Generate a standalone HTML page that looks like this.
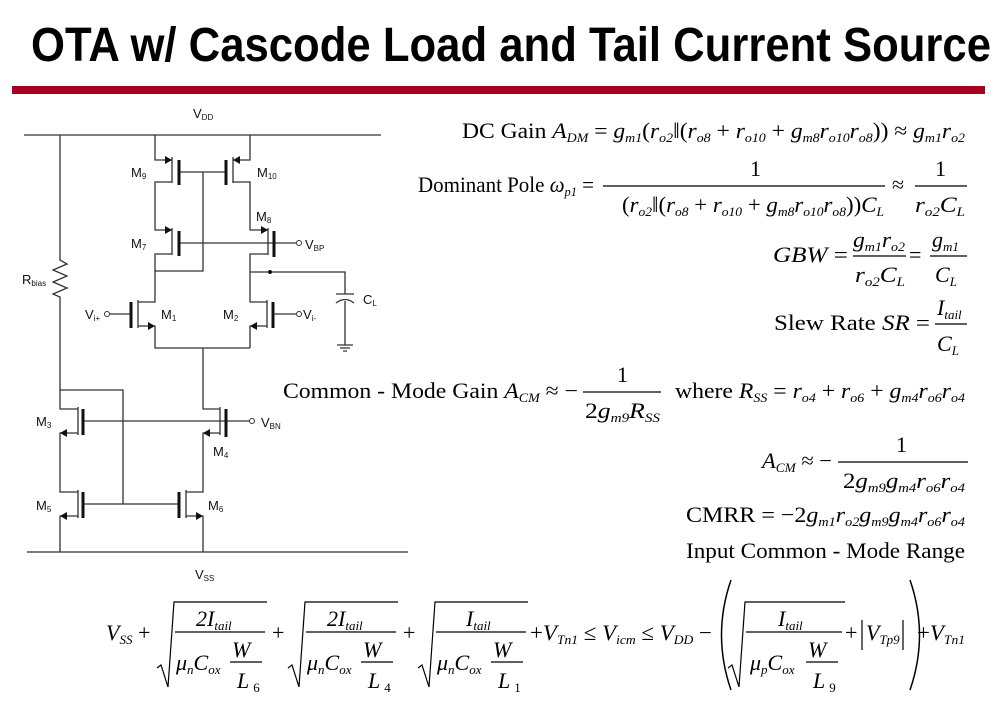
<!DOCTYPE html>
<html><head><meta charset="utf-8"><style>
html,body{margin:0;padding:0;background:#fff;}
svg{display:block;}
.t{font-family:"Liberation Serif",serif;font-size:22px;fill:#000;}
.i{font-style:italic;}
.s{font-size:13px;font-style:italic;}
.c{font-family:"Liberation Sans",sans-serif;font-size:13px;fill:#111;}
.cs{font-size:8px;}
</style></head><body>
<svg width="1004" height="707" viewBox="0 0 1004 707" xmlns="http://www.w3.org/2000/svg">
<text x="31" y="61" font-family="Liberation Sans, sans-serif" font-weight="bold" font-size="48" textLength="960" lengthAdjust="spacingAndGlyphs">OTA w/ Cascode Load and Tail Current Source</text>
<rect x="12" y="86" width="973" height="8" fill="#a50021"/>

<g stroke="#333" stroke-width="1.3" fill="none">
<path d="M24 135H381"/>
<path d="M60 135V260l7 4-14 6 14 6-14 6 14 6-14 6 7 3V409H78"/>
<path d="M60 390H123V504"/>
<path d="M155 135V160H172M172 157V183M172 182H155V230H172M172 228V255M172 254H155V302H138M138 300V328M138 326H155V348H250"/>
<path d="M250 135V160H233M233 157V183M233 182H250V230H268M268 228V255M268 254H250V302H267M267 300V328M267 326H250V348"/>
<path d="M179 172H226M203 172V271H155M179 243H296M250 272H345V294M345 301V345"/>
<path d="M336 294H354M336 303Q345 296 354 303"/>
<path d="M337 345H353M340 348H350M343 351H347"/>
<path d="M131 314H110M273 314H296"/>
<path d="M203 348V409H220M220 407V435M220 433H203V492H186M186 490V518M186 516H203V552"/>
<path d="M78 407V435M78 433H60V492H78M78 490V518M78 516H60V552"/>
<path d="M83 421H249M83 504H179"/>
<path d="M27 552H408"/>
</g>
<g stroke="#111" stroke-width="3">
<path d="M179 160V185M226 160V185M179 231V256M274 231V257M131 302V328M273 302V328M83 409V435M226 409V437M83 492V518M179 492V518"/>
</g>
<g fill="#111">
<polygon points="172,160 165,156 165,164"/><polygon points="233,160 240,156 240,164"/>
<polygon points="172,230 165,226 165,234"/><polygon points="268,230 261,226 261,234"/>
<polygon points="155,326 148,322 148,330"/><polygon points="250,326 257,322 257,330"/>
<polygon points="60,433 67,429 67,437"/><polygon points="203,433 210,429 210,437"/>
<polygon points="60,516 67,512 67,520"/><polygon points="203,516 196,512 196,520"/>
<circle cx="270" cy="272" r="2"/>
</g>
<g fill="#fff" stroke="#333" stroke-width="1">
<circle cx="107" cy="314" r="2.5"/><circle cx="299" cy="314" r="2.5"/><circle cx="299" cy="243" r="2.5"/><circle cx="252" cy="421" r="2.5"/>
</g>
<g class="c">
<text x="193" y="118">V<tspan class="cs" dy="2">DD</tspan></text>
<text x="195" y="579">V<tspan class="cs" dy="2">SS</tspan></text>
<text x="131" y="177">M<tspan class="cs" dy="2">9</tspan></text>
<text x="257" y="177">M<tspan class="cs" dy="2">10</tspan></text>
<text x="256" y="221">M<tspan class="cs" dy="2">8</tspan></text>
<text x="131" y="248">M<tspan class="cs" dy="2">7</tspan></text>
<text x="305" y="249">V<tspan class="cs" dy="2">BP</tspan></text>
<text x="22" y="284">R<tspan class="cs" dy="2">bias</tspan></text>
<text x="85" y="319">V<tspan class="cs" dy="2">i+</tspan></text>
<text x="161" y="319">M<tspan class="cs" dy="2">1</tspan></text>
<text x="223" y="319">M<tspan class="cs" dy="2">2</tspan></text>
<text x="303" y="319">V<tspan class="cs" dy="2">i-</tspan></text>
<text x="363" y="304">C<tspan class="cs" dy="2">L</tspan></text>
<text x="36" y="426">M<tspan class="cs" dy="2">3</tspan></text>
<text x="261" y="427">V<tspan class="cs" dy="2">BN</tspan></text>
<text x="213" y="456">M<tspan class="cs" dy="2">4</tspan></text>
<text x="36" y="510">M<tspan class="cs" dy="2">5</tspan></text>
<text x="208" y="510">M<tspan class="cs" dy="2">6</tspan></text>
</g>

<g class="t">
<text x="462" y="138" textLength="503" lengthAdjust="spacingAndGlyphs">DC Gain  <tspan class="i">A</tspan><tspan class="s" dy="4">DM</tspan><tspan dy="-4"> = </tspan><tspan class="i">g</tspan><tspan class="s" dy="4">m1</tspan><tspan dy="-4">(</tspan><tspan class="i">r</tspan><tspan class="s" dy="4">o2</tspan><tspan dy="-4">‖(</tspan><tspan class="i">r</tspan><tspan class="s" dy="4">o8</tspan><tspan dy="-4"> + </tspan><tspan class="i">r</tspan><tspan class="s" dy="4">o10</tspan><tspan dy="-4"> + </tspan><tspan class="i">g</tspan><tspan class="s" dy="4">m8</tspan><tspan class="i" dy="-4">r</tspan><tspan class="s" dy="4">o10</tspan><tspan class="i" dy="-4">r</tspan><tspan class="s" dy="4">o8</tspan><tspan dy="-4">)) ≈ </tspan><tspan class="i">g</tspan><tspan class="s" dy="4">m1</tspan><tspan class="i" dy="-4">r</tspan><tspan class="s" dy="4">o2</tspan></text>

<text x="418" y="192" textLength="176" lengthAdjust="spacingAndGlyphs">Dominant Pole  <tspan class="i">ω</tspan><tspan class="s" dy="4">p1</tspan><tspan dy="-4"> =</tspan></text>
<line x1="603" y1="186" x2="885" y2="186" stroke="#000" stroke-width="1.2"/>
<text x="750" y="176">1</text>
<text x="622" y="212" textLength="262" lengthAdjust="spacingAndGlyphs">(<tspan class="i">r</tspan><tspan class="s" dy="4">o2</tspan><tspan dy="-4">‖(</tspan><tspan class="i">r</tspan><tspan class="s" dy="4">o8</tspan><tspan dy="-4"> + </tspan><tspan class="i">r</tspan><tspan class="s" dy="4">o10</tspan><tspan dy="-4"> + </tspan><tspan class="i">g</tspan><tspan class="s" dy="4">m8</tspan><tspan class="i" dy="-4">r</tspan><tspan class="s" dy="4">o10</tspan><tspan class="i" dy="-4">r</tspan><tspan class="s" dy="4">o8</tspan><tspan dy="-4">))</tspan><tspan class="i">C</tspan><tspan class="s" dy="4">L</tspan></text>
<text x="892" y="192">≈</text>
<line x1="915" y1="186" x2="967" y2="186" stroke="#000" stroke-width="1.2"/>
<text x="935" y="176">1</text>
<text x="915" y="212" class="i" textLength="50" lengthAdjust="spacingAndGlyphs">r<tspan class="s" dy="4">o2</tspan><tspan dy="-4">C</tspan><tspan class="s" dy="4">L</tspan></text>

<text x="773" y="262" class="i" textLength="75" lengthAdjust="spacingAndGlyphs">GBW <tspan font-style="normal">=</tspan></text>
<line x1="853" y1="256" x2="906" y2="256" stroke="#000" stroke-width="1.2"/>
<text x="853" y="247" class="i" textLength="52" lengthAdjust="spacingAndGlyphs">g<tspan class="s" dy="4">m1</tspan><tspan dy="-4">r</tspan><tspan class="s" dy="4">o2</tspan></text>
<text x="855" y="282" class="i" textLength="50" lengthAdjust="spacingAndGlyphs">r<tspan class="s" dy="4">o2</tspan><tspan dy="-4">C</tspan><tspan class="s" dy="4">L</tspan></text>
<text x="909" y="262">=</text>
<line x1="930" y1="256" x2="967" y2="256" stroke="#000" stroke-width="1.2"/>
<text x="932" y="247" class="i">g<tspan class="s" dy="4">m1</tspan></text>
<text x="935" y="282" class="i">C<tspan class="s" dy="4">L</tspan></text>

<text x="774" y="330" textLength="156" lengthAdjust="spacingAndGlyphs">Slew Rate  <tspan class="i">SR</tspan> =</text>
<line x1="935" y1="324" x2="967" y2="324" stroke="#000" stroke-width="1.2"/>
<text x="937" y="315" class="i">I<tspan class="s" dy="4">tail</tspan></text>
<text x="937" y="351" class="i">C<tspan class="s" dy="4">L</tspan></text>

<text x="283" y="398" textLength="295" lengthAdjust="spacingAndGlyphs">Common - Mode Gain  <tspan class="i">A</tspan><tspan class="s" dy="4">CM</tspan><tspan dy="-4"> ≈ −</tspan></text>
<line x1="583" y1="392" x2="661" y2="392" stroke="#000" stroke-width="1.2"/>
<text x="617" y="382">1</text>
<text x="585" y="418" textLength="75" lengthAdjust="spacingAndGlyphs">2<tspan class="i">g</tspan><tspan class="s" dy="4">m9</tspan><tspan class="i" dy="-4">R</tspan><tspan class="s" dy="4">SS</tspan></text>
<text x="675" y="398" textLength="290" lengthAdjust="spacingAndGlyphs">where  <tspan class="i">R</tspan><tspan class="s" dy="4">SS</tspan><tspan dy="-4"> = </tspan><tspan class="i">r</tspan><tspan class="s" dy="4">o4</tspan><tspan dy="-4"> + </tspan><tspan class="i">r</tspan><tspan class="s" dy="4">o6</tspan><tspan dy="-4"> + </tspan><tspan class="i">g</tspan><tspan class="s" dy="4">m4</tspan><tspan class="i" dy="-4">r</tspan><tspan class="s" dy="4">o6</tspan><tspan class="i" dy="-4">r</tspan><tspan class="s" dy="4">o4</tspan></text>

<text x="762" y="468" textLength="70" lengthAdjust="spacingAndGlyphs"><tspan class="i">A</tspan><tspan class="s" dy="4">CM</tspan><tspan dy="-4"> ≈ −</tspan></text>
<line x1="838" y1="462" x2="968" y2="462" stroke="#000" stroke-width="1.2"/>
<text x="896" y="452">1</text>
<text x="843" y="488" textLength="122" lengthAdjust="spacingAndGlyphs">2<tspan class="i">g</tspan><tspan class="s" dy="4">m9</tspan><tspan class="i" dy="-4">g</tspan><tspan class="s" dy="4">m4</tspan><tspan class="i" dy="-4">r</tspan><tspan class="s" dy="4">o6</tspan><tspan class="i" dy="-4">r</tspan><tspan class="s" dy="4">o4</tspan></text>

<text x="686" y="522" textLength="279" lengthAdjust="spacingAndGlyphs">CMRR = −2<tspan class="i">g</tspan><tspan class="s" dy="4">m1</tspan><tspan class="i" dy="-4">r</tspan><tspan class="s" dy="4">o2</tspan><tspan class="i" dy="-4">g</tspan><tspan class="s" dy="4">m9</tspan><tspan class="i" dy="-4">g</tspan><tspan class="s" dy="4">m4</tspan><tspan class="i" dy="-4">r</tspan><tspan class="s" dy="4">o6</tspan><tspan class="i" dy="-4">r</tspan><tspan class="s" dy="4">o4</tspan></text>
<text x="686" y="558" textLength="279" lengthAdjust="spacingAndGlyphs">Input Common - Mode Range</text>

<text x="106" y="640"><tspan class="i">V</tspan><tspan class="s" dy="4">SS</tspan><tspan dy="-4"> +</tspan></text>
<text x="272" y="640">+</text>
<text x="403" y="640">+</text>
</g>

<g stroke="#000" stroke-width="1.2" fill="none">
<path d="M157 668l4-3 7 22 6-85h93"/>
<path d="M288 668l4-3 7 22 6-85h93"/>
<path d="M418 668l4-3 7 22 6-85h93"/>
<path d="M728 668l4-3 7 22 6-85h100"/>
<path d="M175 632H265M306 632H396M436 632H526M746 632H842"/>
<path d="M230 662H262M361 662H393M491 662H523M806 662H838"/>
<path d="M731 580Q712 635 731 690" stroke-width="1.5"/>
<path d="M910 580Q929 635 910 690" stroke-width="1.5"/>
<path d="M862 620V650M903 620V650"/>
</g>
<g class="t">
<text x="196" y="626" class="i">2I<tspan class="s" dy="4">tail</tspan></text>
<text x="327" y="626" class="i">2I<tspan class="s" dy="4">tail</tspan></text>
<text x="466" y="626" class="i">I<tspan class="s" dy="4">tail</tspan></text>
<text x="778" y="626" class="i">I<tspan class="s" dy="4">tail</tspan></text>
<text x="176" y="670" class="i">μ<tspan class="s" dy="4">n</tspan><tspan dy="-4">C</tspan><tspan class="s" dy="4">ox</tspan></text>
<text x="307" y="670" class="i">μ<tspan class="s" dy="4">n</tspan><tspan dy="-4">C</tspan><tspan class="s" dy="4">ox</tspan></text>
<text x="437" y="670" class="i">μ<tspan class="s" dy="4">n</tspan><tspan dy="-4">C</tspan><tspan class="s" dy="4">ox</tspan></text>
<text x="750" y="670" class="i">μ<tspan class="s" dy="4">p</tspan><tspan dy="-4">C</tspan><tspan class="s" dy="4">ox</tspan></text>
<text x="232" y="657" class="i">W</text><text x="363" y="657" class="i">W</text><text x="493" y="657" class="i">W</text><text x="808" y="657" class="i">W</text>
<text x="237" y="688" class="i">L<tspan font-size="13" font-style="normal" dx="4" dy="4">6</tspan></text>
<text x="368" y="688" class="i">L<tspan font-size="13" font-style="normal" dx="4" dy="4">4</tspan></text>
<text x="498" y="688" class="i">L<tspan font-size="13" font-style="normal" dx="4" dy="4">1</tspan></text>
<text x="813" y="688" class="i">L<tspan font-size="13" font-style="normal" dx="4" dy="4">9</tspan></text>
<text x="530" y="640" textLength="182" lengthAdjust="spacingAndGlyphs">+<tspan class="i">V</tspan><tspan class="s" dy="4">Tn1</tspan><tspan dy="-4"> ≤ </tspan><tspan class="i">V</tspan><tspan class="s" dy="4">icm</tspan><tspan dy="-4"> ≤ </tspan><tspan class="i">V</tspan><tspan class="s" dy="4">DD</tspan><tspan dy="-4"> −</tspan></text>
<text x="845" y="640">+</text>
<text x="866" y="640" class="i">V<tspan class="s" dy="4">Tp9</tspan></text>
<text x="917" y="640" textLength="48" lengthAdjust="spacingAndGlyphs">+<tspan class="i">V</tspan><tspan class="s" dy="4">Tn1</tspan></text>
</g>
</svg>
</body></html>
